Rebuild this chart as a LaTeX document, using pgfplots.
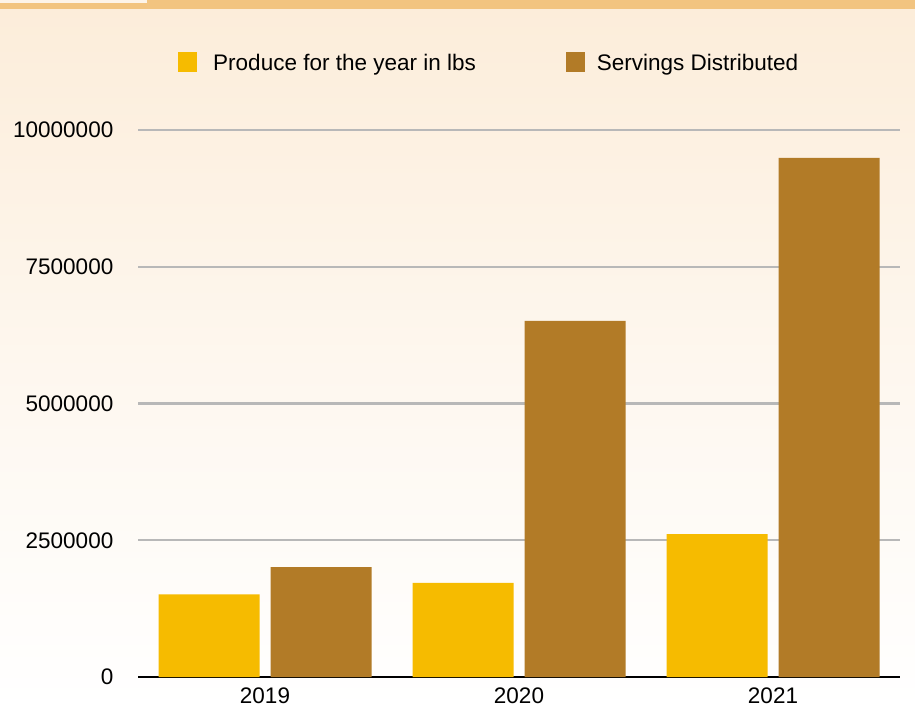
\documentclass[border=0pt]{standalone}
\usepackage{pgfplots}
\pgfplotsset{compat=1.18}
\usepackage{fontspec}
\setmainfont{Liberation Sans}
\definecolor{produce}{RGB}{246,187,0}
\definecolor{servings}{RGB}{178,123,39}
\definecolor{gridgray}{RGB}{184,184,184}
\definecolor{bandorange}{RGB}{242,196,128}
\definecolor{cream}{RGB}{252,237,218}
\begin{document}
\fontsize{22.5pt}{27pt}\selectfont
\begin{tikzpicture}
% page background: 1px = 1pt, origin at top left
\useasboundingbox (0,0) rectangle (915pt,-709pt);
\shade[top color=cream, bottom color=white, middle color={cream!45!white}] (0,-9pt) rectangle (915pt,-709pt);
\fill[bandorange] (0,0) rectangle (915pt,-9pt);
\fill[cream!60!white] (0,0) rectangle (147pt,-3pt);
\begin{axis}[
  at={(138pt,-677pt)}, anchor=south west,
  scale only axis, width=762pt, height=547pt,
  ybar=11pt, bar width=101pt,
  xmin=-0.5, xmax=2.5, ymin=0, ymax=10000000,
  xtick=data, xticklabels={2019,2020,2021},
  ytick={0,2500000,5000000,7500000,10000000},
  scaled y ticks=false,
  yticklabel style={/pgf/number format/fixed, /pgf/number format/1000 sep={}, xshift=-17pt},
  xticklabel style={yshift=-3pt},
  /pgf/number format/assume math mode=true,
  major tick length=0pt,
  ymajorgrids, grid style={gridgray, line width=2.2pt},
  axis x line*=bottom, axis y line*=left,
  y axis line style={draw=none},
  x axis line style={black, line width=2pt, -},
  legend columns=2,
  legend style={draw=none, fill=none, at={(0.0486,1.124)}, anchor=west,
    /tikz/every even column/.append style={column sep=90pt},
    nodes={inner sep=0pt, text depth=0pt}},
  legend cell align=left,
  legend image code/.code={\fill[#1] (0pt,-10pt) rectangle (19pt,10pt);},
  every axis plot/.append style={draw=none},
]
\addplot[fill=produce] coordinates {(0,1510000) (1,1720000) (2,2610000)};
\addlegendentry{\hspace{16pt}Produce for the year in lbs}
\addplot[fill=servings] coordinates {(0,2010000) (1,6510000) (2,9490000)};
\addlegendentry{\hspace{12pt}Servings Distributed}
\end{axis}
\end{tikzpicture}
\end{document}
